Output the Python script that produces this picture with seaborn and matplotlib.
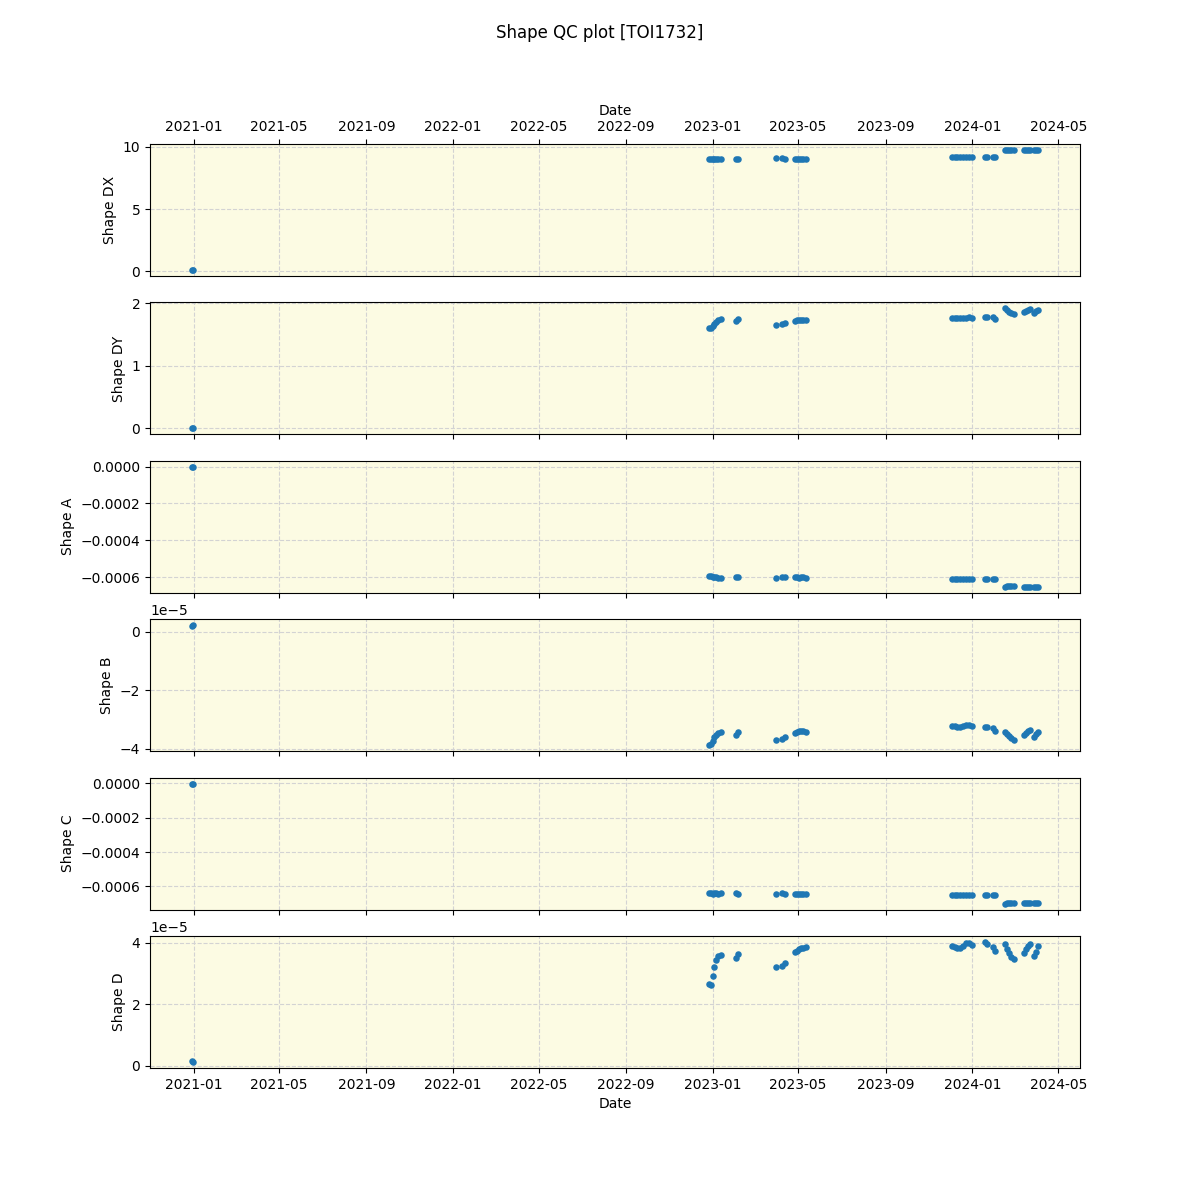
import matplotlib
matplotlib.use("Agg")
import matplotlib.pyplot as plt
import seaborn as sns
import pandas as pd
import numpy as np

dates = [
    "2020-12-30", "2020-12-31",
    "2022-12-27", "2022-12-29", "2023-01-01", "2023-01-03", "2023-01-06", "2023-01-09", "2023-01-13",
    "2023-02-02", "2023-02-06",
    "2023-03-31",
    "2023-04-09", "2023-04-12",
    "2023-04-26", "2023-04-29", "2023-05-02", "2023-05-05", "2023-05-08", "2023-05-12",
    "2023-12-03", "2023-12-07", "2023-12-11", "2023-12-15", "2023-12-19", "2023-12-23", "2023-12-27", "2023-12-31",
    "2024-01-19", "2024-01-22", "2024-01-30", "2024-02-02",
    "2024-02-16", "2024-02-19", "2024-02-22", "2024-02-25", "2024-02-28",
    "2024-03-13", "2024-03-16", "2024-03-19", "2024-03-22",
    "2024-03-28", "2024-03-31", "2024-04-02",
]

shape_dx = [
    0.10, 0.09,
    9.03, 9.02, 9.03, 9.03, 9.04, 9.03, 9.03,
    9.03, 9.02,
    9.11,
    9.08, 9.06,
    9.03, 9.03, 9.04, 9.03, 9.03, 9.04,
    9.19, 9.19, 9.18, 9.19, 9.19, 9.20, 9.19, 9.19,
    9.19, 9.18, 9.19, 9.19,
    9.74, 9.75, 9.75, 9.74, 9.75,
    9.75, 9.74, 9.75, 9.75,
    9.74, 9.75, 9.75,
]

shape_dy = [
    0.00, 0.00,
    1.60, 1.61, 1.64, 1.67, 1.71, 1.74, 1.75,
    1.72, 1.75,
    1.65,
    1.67, 1.69,
    1.72, 1.73, 1.73, 1.74, 1.74, 1.74,
    1.76, 1.76, 1.76, 1.76, 1.77, 1.77, 1.78, 1.77,
    1.78, 1.78, 1.78, 1.75,
    1.92, 1.89, 1.86, 1.84, 1.83,
    1.86, 1.88, 1.90, 1.91,
    1.84, 1.88, 1.90,
]

shape_a = [
    -0.000001, -0.000002,
    -0.000595, -0.000596, -0.000597, -0.000598, -0.000600, -0.000602, -0.000603,
    -0.000601, -0.000601,
    -0.000602,
    -0.000600, -0.000601,
    -0.000600, -0.000601, -0.000602, -0.000601, -0.000600, -0.000602,
    -0.000611, -0.000612, -0.000611, -0.000611, -0.000610, -0.000611, -0.000610, -0.000611,
    -0.000611, -0.000610, -0.000611, -0.000611,
    -0.000652, -0.000650, -0.000649, -0.000648, -0.000647,
    -0.000652, -0.000651, -0.000652, -0.000651,
    -0.000651, -0.000652, -0.000651,
]

shape_b = [
    0.20e-5, 0.22e-5,
    -3.88e-5, -3.85e-5, -3.72e-5, -3.60e-5, -3.52e-5, -3.47e-5, -3.43e-5,
    -3.52e-5, -3.44e-5,
    -3.70e-5,
    -3.66e-5, -3.61e-5,
    -3.45e-5, -3.42e-5, -3.41e-5, -3.40e-5, -3.41e-5, -3.42e-5,
    -3.22e-5, -3.24e-5, -3.26e-5, -3.25e-5, -3.22e-5, -3.20e-5, -3.18e-5, -3.22e-5,
    -3.25e-5, -3.27e-5, -3.30e-5, -3.38e-5,
    -3.42e-5, -3.50e-5, -3.58e-5, -3.65e-5, -3.70e-5,
    -3.53e-5, -3.45e-5, -3.40e-5, -3.35e-5,
    -3.60e-5, -3.50e-5, -3.42e-5,
]

shape_c = [
    -0.000002, -0.000002,
    -0.000641, -0.000641, -0.000642, -0.000641, -0.000641, -0.000642, -0.000641,
    -0.000641, -0.000642,
    -0.000646,
    -0.000640, -0.000642,
    -0.000645, -0.000644, -0.000645, -0.000645, -0.000644, -0.000645,
    -0.000652, -0.000652, -0.000651, -0.000652, -0.000652, -0.000651, -0.000652, -0.000652,
    -0.000652, -0.000651, -0.000652, -0.000652,
    -0.000700, -0.000699, -0.000698, -0.000698, -0.000699,
    -0.000699, -0.000698, -0.000699, -0.000699,
    -0.000699, -0.000698, -0.000699,
]

shape_d = [
    0.15e-5, 0.12e-5,
    2.65e-5, 2.62e-5, 2.90e-5, 3.20e-5, 3.45e-5, 3.55e-5, 3.60e-5,
    3.50e-5, 3.64e-5,
    3.21e-5,
    3.23e-5, 3.34e-5,
    3.70e-5, 3.74e-5, 3.78e-5, 3.82e-5, 3.84e-5, 3.86e-5,
    3.90e-5, 3.86e-5, 3.82e-5, 3.81e-5, 3.88e-5, 4.00e-5, 3.98e-5, 3.92e-5,
    4.02e-5, 3.95e-5, 3.87e-5, 3.72e-5,
    3.97e-5, 3.78e-5, 3.65e-5, 3.52e-5, 3.48e-5,
    3.65e-5, 3.78e-5, 3.90e-5, 3.95e-5,
    3.55e-5, 3.70e-5, 3.88e-5,
]

series_names = ["Shape DX", "Shape DY", "Shape A", "Shape B", "Shape C", "Shape D"]
series_values = [shape_dx, shape_dy, shape_a, shape_b, shape_c, shape_d]

df = pd.DataFrame({"date": pd.to_datetime(dates)})
for name, vals in zip(series_names, series_values):
    df[name] = vals

fig, axes = plt.subplots(6, 1, figsize=(12, 12), dpi=100, sharex=True)
fig.suptitle("Shape QC plot [TOI1732]")

for i, (ax, name) in enumerate(zip(axes, series_names)):
    ax.set_facecolor("#FCFBE3")
    sns.scatterplot(data=df, x="date", y=name, ax=ax, color="#1f77b4",
                    s=22, linewidth=0, zorder=3)
    ax.grid(True, linestyle="--", color="lightgray", linewidth=0.8, zorder=0)
    ax.set_axisbelow(True)
    ax.set_ylabel(name)
    ax.set_xlabel("")

axes[0].tick_params(axis="x", top=True, labeltop=True, bottom=False, labelbottom=False)
axes[0].xaxis.set_label_position("top")
axes[0].set_xlabel("Date")
axes[0].xaxis.label.set_visible(True)
axes[-1].set_xlabel("Date")
axes[-1].xaxis.label.set_visible(True)

fig.savefig("out.png", dpi=100)
